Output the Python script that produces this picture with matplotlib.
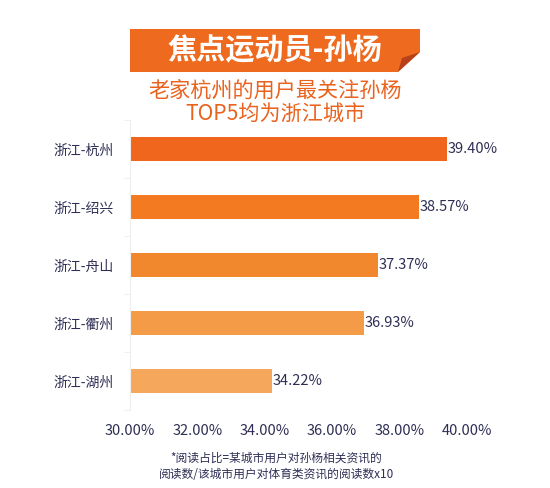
import matplotlib
matplotlib.use('Agg')
import matplotlib.pyplot as plt
from matplotlib.patches import Polygon
import numpy as np

plt.rcParams['font.family'] = ['Noto Sans CJK SC', 'DejaVu Sans']

''' Data '''
cities = ['浙江-杭州', '浙江-绍兴', '浙江-舟山', '浙江-衢州', '浙江-湖州']
share = [39.40, 38.57, 37.37, 36.93, 34.22]  # %
bar_colors = ['#EF661C', '#F37A21', '#F2882D', '#F39B47', '#F5A85B']
xticks = [30, 32, 34, 36, 38, 40]
title = '焦点运动员-孙杨'
subtitle = '老家杭州的用户最关注孙杨\nTOP5均为浙江城市'
footnote = '*阅读占比=某城市用户对孙杨相关资讯的\n阅读数/该城市用户对体育类资讯的阅读数x10'

navy = '#2E2E55'
W, H = 550, 488

fig = plt.figure(figsize=[W / 100, H / 100], dpi=100)
fig.patch.set_facecolor('white')


def px(x, y):
    ''' pixel (from top-left) -> figure fraction '''
    return (x / W, 1 - y / H)


''' Banner '''
banner = Polygon([px(130, 29), px(420, 29), px(420, 52), px(398, 72), px(130, 72)],
                 closed=True, transform=fig.transFigure, facecolor='#EE6A1F',
                 edgecolor='none')
fold = Polygon([px(420, 52), px(402, 58), px(398, 72)], closed=True,
               transform=fig.transFigure, facecolor='#B8401A', edgecolor='none')
fig.patches.extend([banner, fold])
fig.text(*px(275, 50), title, color='white', fontsize=21, fontweight='heavy',
         ha='center', va='center')
fig.text(*px(275, 103), subtitle, color='#E9621E', fontsize=15.2,
         ha='center', va='center', linespacing=1.1)

''' Bars '''
ax = fig.add_axes([130 / W, 78 / H, 337 / W, 290 / H])
y = np.arange(len(cities))
bars = ax.barh(y, [s - 30 for s in share], left=30, height=0.41,
               color=bar_colors, edgecolor='none')
for yi, s in zip(y, share):
    ax.text(s + 0.02, yi, f'{s:.2f}%', va='center', ha='left',
            fontsize=10.5, color=navy)

ax.set_ylim(len(cities) - 0.5, -0.5)
ax.set_xlim(30, 40)
ax.set_yticks(y)
ax.set_yticklabels(cities, fontsize=10, color=navy)
ax.set_yticks(np.arange(-0.5, len(cities), 1), minor=True)
ax.tick_params(axis='y', which='major', length=0, pad=12)
ax.tick_params(axis='y', which='minor', length=4, color='#EEEEEE')
ax.set_xticks(xticks)
ax.set_xticklabels([f'{t:.2f}%' for t in xticks], fontsize=10.5, color=navy)
ax.tick_params(axis='x', length=0, pad=10)
for side in ['top', 'right', 'bottom']:
    ax.spines[side].set_visible(False)
ax.spines['left'].set_color('#EEEEEE')

fig.text(*px(276, 466), footnote, color=navy, fontsize=8.5,
         ha='center', va='center', linespacing=1.3)

plt.savefig('out.png', dpi=100)
plt.close(fig)
